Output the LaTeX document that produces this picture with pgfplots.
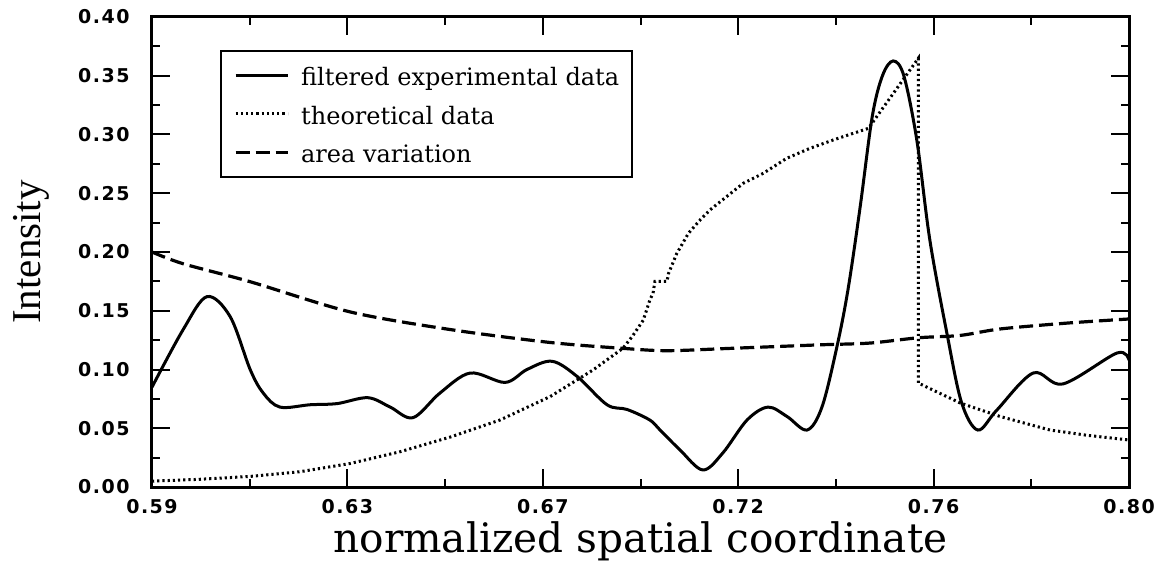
\documentclass[border=0pt]{standalone}
\usepackage{pgfplots}
\pgfplotsset{compat=1.18}
\usepackage{fontspec}
\setmainfont{DejaVu Serif}
\newfontfamily\ylabfont{Liberation Serif}
\newfontfamily\tickfont[LetterSpace=8]{DejaVu Sans}
\begin{document}
\begin{tikzpicture}
\begin{axis}[
  name=ax,
  scale only axis,
  width=488.5pt, height=235pt,
  xmin=0.59, xmax=0.80, ymin=0, ymax=0.40,
  xtick={0.59,0.632,0.674,0.716,0.758,0.80},
  xticklabels={0.59,0.63,0.67,0.72,0.76,0.80},
  ytick={0,0.05,0.1,0.15,0.2,0.25,0.3,0.35,0.4},
  yticklabels={0.00,0.05,0.10,0.15,0.20,0.25,0.30,0.35,0.40},
  minor x tick num=1, minor y tick num=1,
  major tick length=9pt, minor tick length=4pt,
  tick style={line width=1pt, black},
  axis line style={line width=1.5pt},
  tick label style={font=\tickfont\bfseries\fontsize{9.5}{10}\selectfont},
  xticklabel style={anchor=base, yshift=-13pt},
  yticklabel style={anchor=east, inner xsep=0pt, xshift=-11pt},
  xlabel={normalized spatial coordinate},
  xlabel style={at={(axis description cs:0.5,-0.1404)}, anchor=base, font=\fontsize{20.3}{24}\selectfont},
  ylabel={Intensity},
  ylabel style={at={(axis description cs:-0.1146,0.5)}, anchor=base, font=\ylabfont\fontsize{20.5}{24}\selectfont},
  legend style={at={(axis description cs:0.0696,0.9298)}, anchor=north west,
    draw=black, line width=1pt, font=\fontsize{12}{14}\selectfont,
    inner xsep=6.5pt, inner ysep=4pt, row sep=2.75pt,
    nodes={inner sep=0pt, text height=13.5pt, text depth=3pt},
    /tikz/every odd column/.append style={column sep=6pt}},
  legend cell align=left,
  legend image code/.code={\draw[#1] (0pt,0pt) -- (26pt,0pt);},
]
\addplot[black, line width=1.5pt, smooth, tension=0.55] coordinates {
(0.5900,0.085) (0.5967,0.134) (0.6018,0.162) (0.6068,0.145) (0.6111,0.100)
(0.6139,0.080) (0.6175,0.068) (0.6240,0.070) (0.6298,0.071) (0.6364,0.076)
(0.6412,0.068) (0.6461,0.059) (0.6519,0.080) (0.6584,0.097) (0.6659,0.089)
(0.6706,0.100) (0.6760,0.107) (0.6814,0.094) (0.6878,0.070) (0.6921,0.066)
(0.6970,0.057) (0.6992,0.0485) (0.7035,0.0315) (0.7084,0.0145)
(0.7127,0.029) (0.7179,0.057) (0.7224,0.068) (0.7265,0.060) (0.7308,0.0485)
(0.7340,0.068) (0.7372,0.119) (0.7396,0.168) (0.7422,0.238) (0.7448,0.315)
(0.7470,0.350) (0.7493,0.3626) (0.7516,0.350) (0.7544,0.295) (0.7572,0.210)
(0.7609,0.130) (0.7640,0.072) (0.7675,0.0485) (0.7716,0.0655) (0.7794,0.097)
(0.7858,0.0877) (0.7974,0.114) (0.8000,0.108)
};
\addlegendentry{filtered experimental data}
\addplot[black, line width=1.5pt, dash pattern=on 1.1pt off 1.5pt] coordinates {
(0.5900,0.005) (0.6000,0.0065) (0.6111,0.009) (0.6218,0.013) (0.6326,0.020) (0.6433,0.030)
(0.6541,0.0425) (0.6648,0.057) (0.6756,0.077) (0.6848,0.0996) (0.6912,0.118)
(0.6932,0.128) (0.6956,0.142) (0.6970,0.159) (0.6977,0.165) (0.6981,0.175)
(0.7007,0.175) (0.7010,0.1815) (0.7028,0.1988) (0.7053,0.2159) (0.7078,0.2272)
(0.7099,0.2357) (0.7135,0.2471) (0.7171,0.2585) (0.7214,0.2670) (0.7264,0.2797)
(0.7314,0.2882) (0.7364,0.2953) (0.7440,0.3053) (0.7547,0.3648) (0.7547,0.0885)
(0.7637,0.0715) (0.7723,0.060) (0.7830,0.0485) (0.7910,0.044) (0.8000,0.040)
};
\addlegendentry{theoretical data}
\addplot[black, line width=1.6pt, dash pattern=on 7pt off 3pt, smooth] coordinates {
(0.5900,0.200) (0.5967,0.190) (0.6111,0.1747) (0.6326,0.149) (0.6541,0.134)
(0.6756,0.123) (0.6912,0.118) (0.7007,0.116) (0.7144,0.118) (0.7336,0.121)
(0.7443,0.1225) (0.7547,0.127) (0.7637,0.129) (0.7723,0.1345) (0.7867,0.1395)
(0.8000,0.143)
};
\addlegendentry{area variation}
\end{axis}
\pgfresetboundingbox
\path ([shift={(-76pt,-40pt)}]ax.south west) rectangle ([shift={(15.5pt,8.5pt)}]ax.north east);
\end{tikzpicture}
\end{document}
